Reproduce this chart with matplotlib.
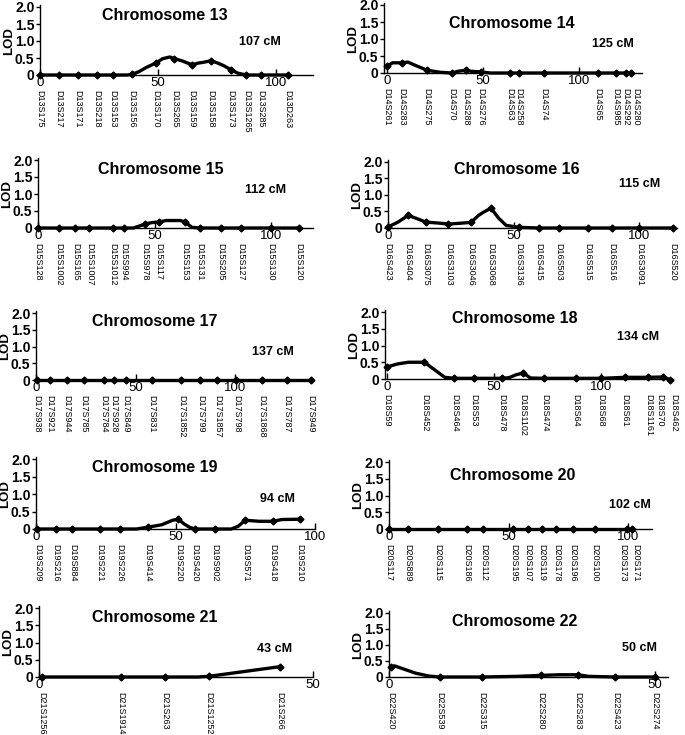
import numpy as np
import matplotlib
matplotlib.use("Agg")
import matplotlib.pyplot as plt

plt.rcParams['font.family'] = ['Liberation Sans', 'DejaVu Sans']

# ---- data: marker names, marker positions (cM), LOD at markers, extra curve points ----
chr13_names = ["D13S175", "D13S217", "D13S171", "D13S218", "D13S153", "D13S156", "D13S170",
               "D13S265", "D13S159", "D13S158", "D13S173", "D13S1265", "D13S285", "D13D263"]
chr13_cm = [0, 8, 16, 24, 31, 39, 49, 57, 64.5, 72.5, 81, 87.5, 93.5, 105]
chr13_lod = [0, 0, 0, 0, 0, 0.02, 0.35, 0.48, 0.3, 0.42, 0.15, 0, 0, 0]
chr13_extra_cm = [37, 42, 45, 52, 55, 60, 67, 69, 75, 78, 84]
chr13_extra_lod = [0, 0.1, 0.22, 0.48, 0.53, 0.42, 0.35, 0.37, 0.36, 0.27, 0.05]

chr14_names = ["D14S261", "D14S283", "D14S275", "D14S70", "D14S288", "D14S276", "D14S63",
               "D14S258", "D14S74", "D14S65", "D14S985", "D14S292", "D14S280"]
chr14_cm = [0, 8, 21, 34, 41, 49, 64, 69, 82, 110, 119.5, 124.5, 127.5]
chr14_lod = [0.2, 0.3, 0.08, 0, 0.08, 0.03, 0, 0, 0, 0, 0, 0, 0]
chr14_extra_cm = [3, 11, 15, 28, 37, 44, 54]
chr14_extra_lod = [0.3, 0.32, 0.22, 0.02, 0.05, 0.05, 0]

chr15_names = ["D15S128", "D15S1002", "D15S165", "D15S1007", "D15S1012", "D15S994", "D15S978",
               "D15S117", "D15S153", "D15S131", "D15S205", "D15S127", "D15S130", "D15S120"]
chr15_cm = [0, 9, 16, 22, 32, 37, 46, 52, 63, 69.5, 78.5, 87, 100, 112]
chr15_lod = [0, 0, 0, 0, 0, 0, 0.12, 0.18, 0.18, 0, 0, 0, 0, 0]
chr15_extra_cm = [41, 44, 49, 55, 58, 61, 66]
chr15_extra_lod = [0, 0.07, 0.16, 0.22, 0.22, 0.22, 0.02]

chr16_names = ["D16S423", "D16S404", "D16S3075", "D16S3103", "D16S3046", "D16S3068", "D16S3136",
               "D16S415", "D16S503", "D16S515", "D16S516", "D16S3091", "D16S520"]
chr16_cm = [0, 8, 15, 24, 33, 41, 52, 60, 68, 79.5, 89, 100, 113.5]
chr16_lod = [0.03, 0.38, 0.18, 0.12, 0.17, 0.6, 0.02, 0, 0, 0, 0, 0, 0]
chr16_extra_cm = [4, 11, 20, 28, 36, 38, 44, 47]
chr16_extra_lod = [0.18, 0.3, 0.15, 0.14, 0.38, 0.48, 0.3, 0.08]

chr17_names = ["D17S938", "D17S921", "D17S944", "D17S785", "D17S784", "D17S928", "D17S849",
               "D17S831", "D17S1852", "D17S799", "D17S1857", "D17S798", "D17S1868", "D17S787", "D17S949"]
chr17_cm = [0.5, 7, 15.5, 24, 34, 39, 45, 58, 73, 82.5, 91, 100.5, 113.5, 126, 138]
chr17_lod = [0] * 15
chr17_extra_cm = []
chr17_extra_lod = []

chr18_names = ["D18S59", "D18S452", "D18S464", "D18S53", "D18S478", "D18S1102", "D18S474",
               "D18S64", "D18S68", "D18S61", "D18S1161", "D18S70", "D18S462"]
chr18_cm = [0, 17.5, 31.5, 40.5, 53.5, 63.5, 73.5, 88, 100, 111, 122, 129, 132]
chr18_lod = [0.36, 0.5, 0.02, 0.02, 0.02, 0.18, 0.02, 0.02, 0.02, 0.05, 0.05, 0.06, -0.02]
chr18_extra_cm = [5, 10, 27, 57, 60, 67]
chr18_extra_lod = [0.45, 0.5, 0.05, 0.04, 0.12, 0.03]

chr19_names = ["D19S209", "D19S216", "D19S884", "D19S221", "D19S226", "D19S414", "D19S220",
               "D19S420", "D19S902", "D19S571", "D19S418", "D19S210"]
chr19_cm = [0.5, 7, 13, 23, 30, 40, 51, 57, 64, 75, 85, 94.5]
chr19_lod = [0, 0, 0, 0, 0, 0.05, 0.28, 0, 0, 0.25, 0.22, 0.28]
chr19_extra_cm = [36, 45, 49, 53, 55, 70, 72.5, 80, 88]
chr19_extra_lod = [0, 0.12, 0.25, 0.15, 0.05, 0, 0.08, 0.22, 0.27]

chr20_names = ["D20S117", "D20S889", "D20S115", "D20S186", "D20S112", "D20S195", "D20S107",
               "D20S119", "D20S178", "D20S196", "D20S100", "D20S173", "D20S171"]
chr20_cm = [0, 8, 20.5, 32.5, 39.5, 52, 58, 64, 70, 77, 86, 99.5, 101.5]
chr20_lod = [0] * 13
chr20_extra_cm = []
chr20_extra_lod = []

chr21_names = ["D21S1256", "D21S1914", "D21S263", "D21S1252", "D21S266"]
chr21_cm = [0.5, 15, 23, 31, 44]
chr21_lod = [0, 0, 0, 0.02, 0.3]
chr21_extra_cm = [29]
chr21_extra_lod = [0]

chr22_names = ["D22S420", "D22S539", "D22S315", "D22S280", "D22S283", "D22S423", "D22S274"]
chr22_cm = [0.3, 9.5, 17.5, 28.5, 35.5, 42.5, 50]
chr22_lod = [0.3, 0, 0, 0.05, 0.07, 0, 0]
chr22_extra_cm = [1, 5, 7.5, 24, 32, 37.5]
chr22_extra_lod = [0.35, 0.12, 0.03, 0.02, 0.07, 0.02]

chrom_ids = [13, 14, 15, 16, 17, 18, 19, 20, 21, 22]
chrom_lengths = [107, 125, 112, 115, 137, 134, 94, 102, 43, 50]

# ---- layout (pixels): left, right, y of LOD 0, y of LOD 2 ; xlim ; title centre ; length centre ----
W, H = 685, 735
YTOP = 2.05
layout = {
    13: ((40, 313, 75, 7), (0, 115.7), (165, 15), (260, 42)),
    14: ((384, 642, 73, 5), (-1.5, 133), (512, 23), (613, 44)),
    15: ((38, 313, 228, 160), (0, 118), (161, 169), (266, 190)),
    16: ((388, 677, 228, 162), (0, 115), (517, 169), (640, 184)),
    17: ((36, 313, 380, 313), (0, 139), (155, 322), (273, 352)),
    18: ((385, 673, 379, 312), (-0.9, 133.5), (515, 319), (638, 337)),
    19: ((36, 315, 529, 459), (0, 100), (155, 468), (277, 499)),
    20: ((389, 652, 529, 462), (0, 110), (513, 475), (630, 505)),
    21: ((39, 313, 677, 608), (0, 50), (155, 617), (275, 649)),
    22: ((389, 668, 677, 613), (0, 52.4), (515, 622), (640, 648)),
}
# small horizontal nudges (points) for marker labels that sit too close together
label_nudge = {"D14S280": 3, "D18S70": -2.5, "D18S462": 2.5,
               "D20S173": -3, "D20S171": 3}

data = {
    13: (chr13_names, chr13_cm, chr13_lod, chr13_extra_cm, chr13_extra_lod),
    14: (chr14_names, chr14_cm, chr14_lod, chr14_extra_cm, chr14_extra_lod),
    15: (chr15_names, chr15_cm, chr15_lod, chr15_extra_cm, chr15_extra_lod),
    16: (chr16_names, chr16_cm, chr16_lod, chr16_extra_cm, chr16_extra_lod),
    17: (chr17_names, chr17_cm, chr17_lod, chr17_extra_cm, chr17_extra_lod),
    18: (chr18_names, chr18_cm, chr18_lod, chr18_extra_cm, chr18_extra_lod),
    19: (chr19_names, chr19_cm, chr19_lod, chr19_extra_cm, chr19_extra_lod),
    20: (chr20_names, chr20_cm, chr20_lod, chr20_extra_cm, chr20_extra_lod),
    21: (chr21_names, chr21_cm, chr21_lod, chr21_extra_cm, chr21_extra_lod),
    22: (chr22_names, chr22_cm, chr22_lod, chr22_extra_cm, chr22_extra_lod),
}

fig = plt.figure(figsize=(W / 100, H / 100), dpi=100)
fig.patch.set_facecolor('white')

for cid, length in zip(chrom_ids, chrom_lengths):
    names, cm, lod, ecm, elod = data[cid]
    (left, right, y0, y2), xlim, title_xy, len_xy = layout[cid]
    top_px = y0 - (y0 - y2) * YTOP / 2.0
    ax = fig.add_axes([left / W, 1 - y0 / H, (right - left) / W, (y0 - top_px) / H])
    ax.set_xlim(*xlim)
    ax.set_ylim(0, YTOP)

    xs = np.concatenate([np.asarray(cm, float), np.asarray(ecm, float)])
    ys = np.concatenate([np.asarray(lod, float), np.asarray(elod, float)])
    order = np.argsort(xs, kind='stable')
    ax.plot(xs[order], ys[order], color='black', lw=2.4, clip_on=False,
            solid_joinstyle='round', solid_capstyle='round', zorder=3)
    ax.plot(cm, lod, 'D', ms=3.5, color='black', clip_on=False, zorder=4)

    for s in ('top', 'right'):
        ax.spines[s].set_visible(False)
    ax.spines['left'].set_linewidth(1)
    ax.spines['bottom'].set_linewidth(1)

    ax.set_yticks([0, 0.5, 1.0, 1.5, 2.0])
    ax.set_yticklabels(['0', '0.5', '1.0', '1.5', '2.0'], fontsize=10, fontweight='bold')
    ax.tick_params(axis='y', direction='out', length=3, width=1, pad=1)
    fig.text((left - 31) / W, 1 - (y0 + y2) / 2 / H, 'LOD', rotation=90,
             ha='center', va='center', fontsize=9.5, fontweight='bold')

    xt = [t for t in (0, 50, 100) if xlim[0] <= t <= xlim[1]]
    ax.set_xticks(xt)
    ax.set_xticklabels([str(t) for t in xt], fontsize=9.5)
    ax.tick_params(axis='x', direction='in', length=4, width=1, pad=1.5)

    for nm, pos in zip(names, cm):
        ax.annotate(nm, xy=(pos, 0), xycoords=('data', 'axes fraction'),
                    xytext=(label_nudge.get(nm, 0), -10.5), textcoords='offset points',
                    rotation=-90, ha='center', va='top', fontsize=6.5)

    fig.text(title_xy[0] / W, 1 - title_xy[1] / H, f"Chromosome {cid}",
             ha='center', va='center', fontsize=11.5, fontweight='bold')
    fig.text(len_xy[0] / W, 1 - len_xy[1] / H, f"{length} cM",
             ha='center', va='center', fontsize=9, fontweight='bold')

fig.savefig('out.png', dpi=100, facecolor='white')
